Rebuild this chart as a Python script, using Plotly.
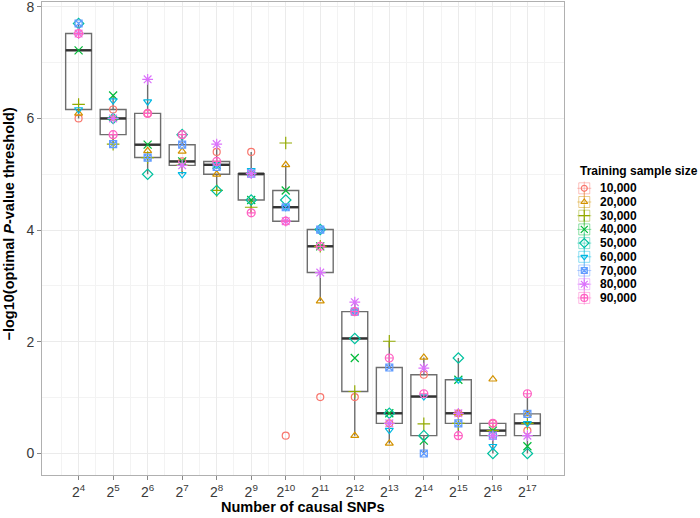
import numpy as np
import plotly.graph_objects as go

# ---------------- data ----------------
exponents = list(range(4, 18))                     # number of causal SNPs = 2^k
tick_labels = [f"2<sup>{e}</sup>" for e in exponents]
sample_sizes = ["10,000", "20,000", "30,000", "40,000", "50,000",
                "60,000", "70,000", "80,000", "90,000"]

v10k = [6.00, 6.16, 6.09, 5.23, 5.40, 5.40, 0.32, 1.01, 1.01, 0.54, 1.41, 0.72, 0.54, 0.41]
v20k = [6.09, 6.00, 5.42, 5.41, 5.00, 5.01, 5.17, 2.73, 0.32, 0.18, 1.72, 0.72, 1.33, 0.71]
v30k = [6.25, 5.54, 5.30, 5.16, 4.71, 4.41, 5.56, 3.71, 1.11, 2.01, 0.53, 0.54, 0.41, 0.54]
v40k = [7.22, 6.41, 5.53, 5.23, 5.17, 4.54, 4.71, 3.71, 1.71, 0.72, 0.23, 1.32, 0.41, 0.13]
v50k = [7.70, 6.00, 5.00, 5.71, 4.71, 4.54, 4.54, 4.01, 2.06, 0.72, 0.32, 1.71, 0.00, 0.00]
v60k = [6.16, 6.32, 6.30, 5.00, 5.17, 5.07, 4.41, 4.01, 2.54, 0.42, 1.02, 1.32, 0.13, 0.54]
v70k = [7.70, 5.54, 5.30, 5.53, 5.13, 5.01, 4.41, 4.01, 2.54, 1.54, 0.00, 0.54, 0.32, 0.71]
v80k = [7.52, 6.00, 6.70, 5.16, 5.54, 5.01, 4.16, 3.24, 2.71, 0.54, 1.53, 0.72, 0.32, 0.32]
v90k = [7.52, 5.71, 6.09, 5.71, 5.23, 4.31, 4.16, 3.71, 2.54, 1.71, 1.07, 0.32, 0.54, 1.07]

series = [v10k, v20k, v30k, v40k, v50k, v60k, v70k, v80k, v90k]

# ---------------- styles ----------------
colors = ["#F8766D", "#D39200", "#93AA00", "#00BA38", "#00C19F",
          "#00B9E3", "#619CFF", "#DB72FB", "#FF61C3"]
symbols = ["circle-open", "triangle-up-open", "cross-thin-open", "x-thin-open",
           "diamond-open", "triangle-down-open", "square-x-open",
           "asterisk-open", "circle-cross-open"]
sizes = [7, 7, 9, 8, 8, 7, 7, 9, 8]
FONT = "Liberation Sans, Arial, Helvetica, sans-serif"
BOX_W = 0.75


def rgba(hexc, a):
    h = hexc.lstrip("#")
    return f"rgba({int(h[0:2],16)},{int(h[2:4],16)},{int(h[4:6],16)},{a})"


# boxplot statistics (R type-7 quantiles, 1.5 IQR whiskers)
q1s, meds, q3s, los, his = [], [], [], [], []
for i in range(len(exponents)):
    a = np.sort(np.array([s[i] for s in series], float))
    q1, med, q3 = np.percentile(a, [25, 50, 75])
    iqr = q3 - q1
    q1s.append(q1); meds.append(med); q3s.append(q3)
    los.append(a[a >= q1 - 1.5 * iqr].min())
    his.append(a[a <= q3 + 1.5 * iqr].max())

fig = go.Figure()

fig.add_trace(go.Box(
    x=exponents, q1=q1s, median=meds, q3=q3s, lowerfence=los, upperfence=his,
    width=BOX_W, whiskerwidth=0, line=dict(color="#6E6E6E", width=1.4),
    fillcolor="rgba(0,0,0,0)", hoverinfo="skip", showlegend=False,
))

# thicker dark median bar
mx, my = [], []
for e, m in zip(exponents, meds):
    mx += [e - BOX_W / 2, e + BOX_W / 2, None]
    my += [m, m, None]
fig.add_trace(go.Scatter(x=mx, y=my, mode="lines",
                         line=dict(color="#333333", width=2.4),
                         hoverinfo="skip", showlegend=False))

for name, vals, col, sym, sz in zip(sample_sizes, series, colors, symbols, sizes):
    fig.add_trace(go.Scatter(
        x=exponents, y=vals, mode="markers", name=name, showlegend=False,
        cliponaxis=False,
        marker=dict(symbol=sym, size=sz, color=col, line=dict(color=col, width=1.2)),
    ))

# ---------------- custom legend (ggplot-like compact keys) ----------------
for i, (name, col, sym, sz) in enumerate(zip(sample_sizes, colors, symbols, sizes)):
    for ksym, ksz in (("square-open", 11), ("line-ns-open", 15), ("line-ew-open", 10)):
        fig.add_trace(go.Scatter(
            x=[9.3], y=[i], xaxis="x2", yaxis="y2", mode="markers", showlegend=False,
            hoverinfo="skip",
            marker=dict(symbol=ksym, size=ksz, color=rgba(col, 0.45),
                        line=dict(color=rgba(col, 0.45), width=1)),
        ))
    fig.add_trace(go.Scatter(
        x=[9.3], y=[i], xaxis="x2", yaxis="y2", mode="markers", showlegend=False,
        hoverinfo="skip",
        marker=dict(symbol=sym, size=sz - 1, color=col, line=dict(color=col, width=1.2)),
    ))
    fig.add_annotation(x=23.3, y=i, xref="x2", yref="y2", text=f"<b>{name}</b>",
                       showarrow=False, xanchor="left", yanchor="middle",
                       font=dict(family=FONT, size=12, color="#000000"))

fig.add_annotation(x=3.3, y=0.6427, xref="x2", yref="paper",
                   text="<b>Training sample size</b>", showarrow=False,
                   xanchor="left", yanchor="middle",
                   font=dict(family=FONT, size=12, color="#000000"))

# axis titles
fig.add_annotation(x=-0.0509, y=0.5307, xref="paper", yref="paper", textangle=-90,
                   text="<b>\u2212log10(optimal <i>P</i>-value threshold)</b>",
                   showarrow=False, xanchor="center", yanchor="middle",
                   font=dict(family=FONT, size=14.5, color="#000000"))
fig.add_annotation(x=0.3967, y=-0.0677, xref="paper", yref="paper",
                   text="<b>Number of causal SNPs</b>", showarrow=False,
                   xanchor="center", yanchor="middle",
                   font=dict(family=FONT, size=14.5, color="#000000"))

GRID = "#EBEBEB"
MINOR = "#F3F3F3"
fig.update_layout(
    width=700, height=518,
    margin=dict(l=42, r=0, t=2, b=43),
    paper_bgcolor="white", plot_bgcolor="white",
    font=dict(family=FONT, size=14, color="#3A3A3A"),
    xaxis=dict(
        domain=[0, 0.7933], range=[2.94, 18.06], automargin=False,
        tickmode="array", tickvals=exponents, ticktext=tick_labels,
        showgrid=True, gridcolor=GRID, gridwidth=1,
        minor=dict(tickmode="linear", tick0=3.5, dtick=1, showgrid=True,
                   gridcolor=MINOR, gridwidth=1, ticks=""),
        showline=True, mirror=True, linecolor="#B0B0B0", linewidth=1,
        ticks="outside", ticklen=4, tickcolor="#888888",
        zeroline=False, tickfont=dict(size=14, color="#3A3A3A"),
        ticklabeloverflow="allow",
    ),
    yaxis=dict(
        domain=[0, 1], range=[-0.385, 8.085], automargin=False,
        tickmode="linear", tick0=0, dtick=2,
        showgrid=True, gridcolor=GRID, gridwidth=1,
        minor=dict(tickmode="linear", tick0=0, dtick=1, showgrid=True,
                   gridcolor=MINOR, gridwidth=1, ticks=""),
        showline=True, mirror=True, linecolor="#B0B0B0", linewidth=1,
        ticks="outside", ticklen=4, tickcolor="#888888",
        zeroline=False, tickfont=dict(size=14, color="#3A3A3A"),
        ticklabeloverflow="allow",
    ),
    xaxis2=dict(domain=[0.81, 1], range=[0, 125], visible=False, anchor="y2",
                fixedrange=True, automargin=False),
    yaxis2=dict(domain=[0.3599, 0.6206], range=[8.5, -0.5], visible=False,
                anchor="x2", fixedrange=True, automargin=False),
)

fig.write_html("out.html", config={"displayModeBar": False},
               post_script="document.body.style.margin='0px';document.body.style.padding='0px';")
